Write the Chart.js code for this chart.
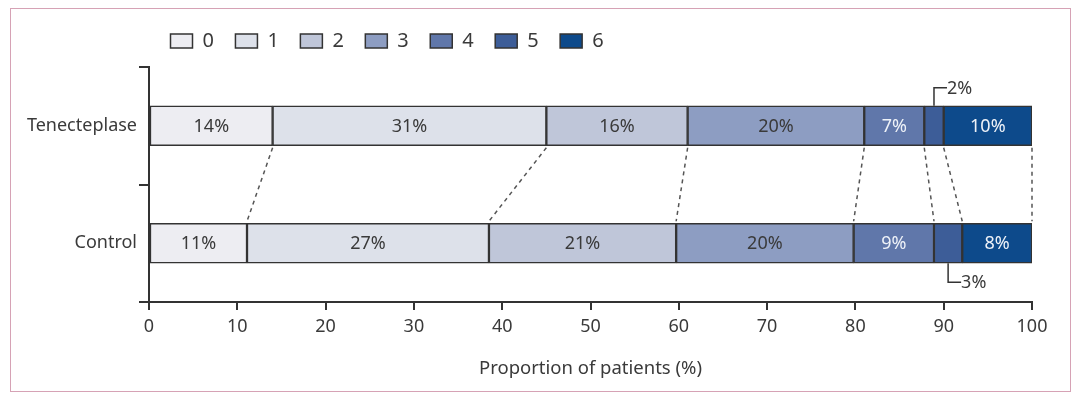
<!DOCTYPE html>
<html>
<head>
<meta charset="utf-8">
<style>
  html, body { margin: 0; padding: 0; background: #fff; }
  #wrap { position: relative; width: 1080px; height: 399px; }
  #frame { position: absolute; left: 10px; top: 8px; width: 1059px; height: 382px; border: 1.5px solid #d6a2b5; pointer-events: none; }
  canvas { position: absolute; left: 0; top: 0; }
</style>
</head>
<body>
<div id="wrap">
  <canvas id="mrs-chart" width="1080" height="399"></canvas>
  <div id="frame"></div>
</div>
<script src="https://cdn.jsdelivr.net/npm/chart.js@4.4.1/dist/chart.umd.min.js"></script>
<script>
const groups = ["Tenecteplase", "Control"]
const mrsScores = ["0", "1", "2", "3", "4", "5", "6"]
const tenecteplaseValues = [14.0, 31.0, 16.0, 20.0, 6.8, 2.2, 10.0]
const controlValues = [11.1, 27.4, 21.2, 20.1, 9.1, 3.2, 7.9]
const xTickValues = [0, 10, 20, 30, 40, 50, 60, 70, 80, 90, 100]
const scoreColors = ["#ededf2", "#dde1ea", "#bfc6d9", "#8d9dc2", "#6077aa", "#3d5d98", "#0d4a8b"]
const labelColors = ["#3a3a3a", "#3a3a3a", "#3a3a3a", "#3a3a3a", "#eef2f8", "#eef2f8", "#eef2f8"]
const calloutScore = 5

const textColor = "#3a3a3a"
const fontFamily = "'Noto Sans'"
Chart.defaults.font.family = fontFamily
Chart.defaults.color = textColor

const canvas = document.getElementById("mrs-chart")

// dashed lines joining the same boundary in both bars
const connectorLines = {
    id: "connectorLines",
    beforeDatasetsDraw(chart) {
        const ctx = chart.ctx
        ctx.save()
        ctx.strokeStyle = "#555"
        ctx.lineWidth = 1.5
        ctx.setLineDash([4, 4])
        chart.data.datasets.forEach((dataset, i) => {
            const topBar = chart.getDatasetMeta(i).data[0]
            const bottomBar = chart.getDatasetMeta(i).data[1]
            ctx.beginPath()
            ctx.moveTo(topBar.x, topBar.y + topBar.height / 2 + 2)
            ctx.lineTo(bottomBar.x, bottomBar.y - bottomBar.height / 2 - 2)
            ctx.stroke()
        })
        ctx.restore()
    }
}

const segmentLabels = {
    id: "segmentLabels",
    afterDatasetsDraw(chart) {
        const ctx = chart.ctx
        ctx.save()
        ctx.font = "18px " + fontFamily
        ctx.textBaseline = "middle"
        chart.data.datasets.forEach((dataset, i) => {
            chart.getDatasetMeta(i).data.forEach((bar, j) => {
                const text = Math.round(dataset.data[j]) + "%"
                const cx = (bar.x + bar.base) / 2
                if (i === calloutScore) {
                    const edge = j === 0 ? bar.y - bar.height / 2 : bar.y + bar.height / 2
                    const lineY = j === 0 ? edge - 18 : edge + 19
                    ctx.strokeStyle = "#333"
                    ctx.lineWidth = 1.5
                    ctx.beginPath()
                    ctx.moveTo(cx, edge)
                    ctx.lineTo(cx, lineY)
                    ctx.lineTo(cx + 13, lineY)
                    ctx.stroke()
                    ctx.fillStyle = textColor
                    ctx.textAlign = "left"
                    ctx.fillText(text, cx + 13, lineY + 1)
                } else {
                    ctx.fillStyle = labelColors[i]
                    ctx.textAlign = "center"
                    ctx.fillText(text, cx, bar.y + 1)
                }
            })
        })
        ctx.restore()
    }
}

// extra room under the legend
const legendSpacing = {
    id: "legendSpacing",
    beforeInit(chart) {
        const originalFit = chart.legend.fit
        chart.legend.fit = function () {
            originalFit.bind(chart.legend)()
            this.height += 6
        }
    }
}

new Chart(canvas, {
    type: "bar",
    data: {
        labels: groups,
        datasets: mrsScores.map((score, i) => ({
            label: score,
            data: [tenecteplaseValues[i], controlValues[i]],
            backgroundColor: scoreColors[i],
            borderColor: "#333",
            borderWidth: 1.5,
            borderSkipped: false,
            barThickness: 40
        }))
    },
    options: {
        indexAxis: "y",
        responsive: false,
        animation: false,
        layout: {
            padding: { top: 9.5, right: 48, bottom: 0, left: 0 }
        },
        plugins: {
            tooltip: { enabled: false },
            legend: {
                position: "top",
                align: "start",
                fullSize: false,
                labels: {
                    boxWidth: 22,
                    boxHeight: 14,
                    padding: 21.5,
                    color: textColor,
                    font: { size: 20 }
                }
            }
        },
        scales: {
            x: {
                stacked: true,
                min: 0,
                max: 100,
                afterBuildTicks: (scale) => {
                    scale.ticks = xTickValues.map(v => ({ value: v }))
                },
                afterFit: (scale) => {
                    scale.height = 97
                },
                grid: {
                    drawOnChartArea: false,
                    tickLength: 8,
                    color: "#333",
                    lineWidth: 2
                },
                border: { color: "#333", width: 2 },
                ticks: {
                    padding: 6,
                    color: textColor,
                    font: { size: 18 }
                },
                title: {
                    display: true,
                    text: "Proportion of patients (%)",
                    color: textColor,
                    font: { size: 18.5 },
                    padding: { top: 4, bottom: 19 }
                }
            },
            y: {
                stacked: true,
                offset: true,
                afterFit: (scale) => {
                    scale.width = 149
                },
                grid: {
                    offset: true,
                    drawOnChartArea: false,
                    tickLength: 10,
                    color: "#333",
                    lineWidth: 2
                },
                border: { color: "#333", width: 2 },
                ticks: {
                    padding: 2,
                    color: textColor,
                    font: { size: 18 }
                }
            }
        }
    },
    plugins: [legendSpacing, connectorLines, segmentLabels]
})
</script>
</body>
</html>
